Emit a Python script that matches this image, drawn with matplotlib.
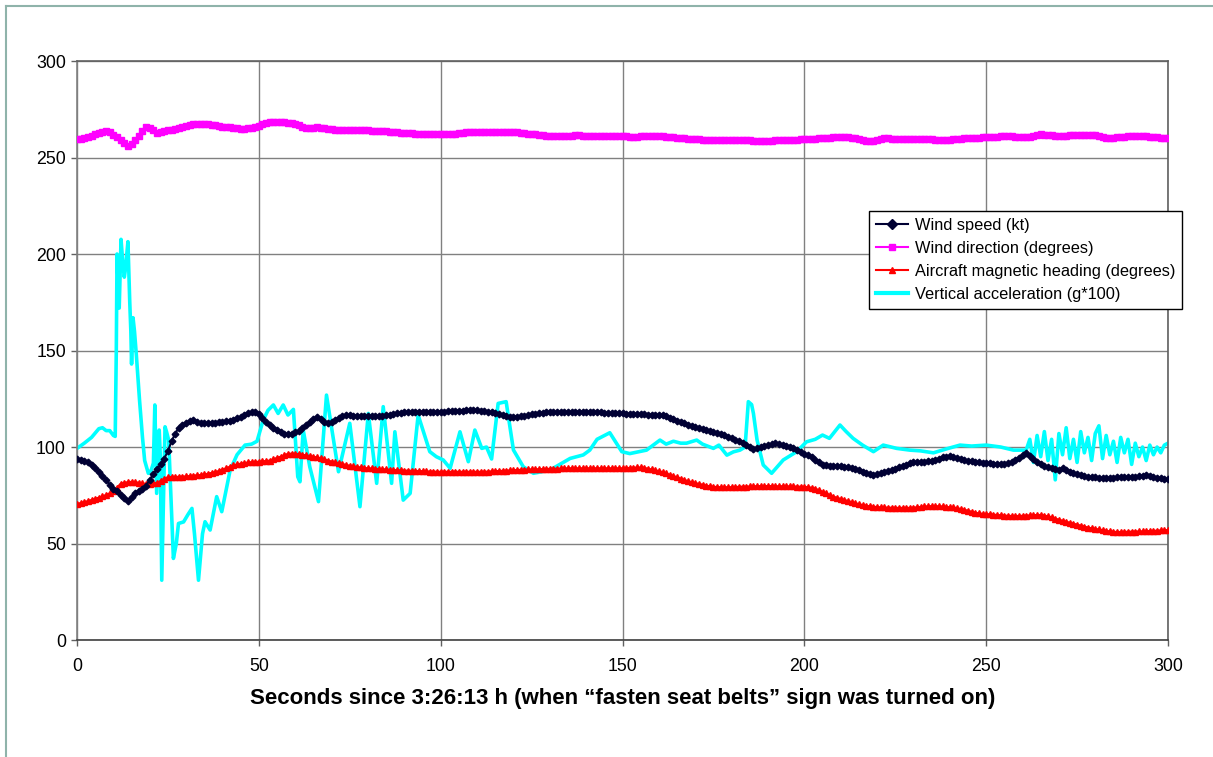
import matplotlib
matplotlib.use("Agg")
import matplotlib.pyplot as plt
from matplotlib.lines import Line2D
import numpy as np

plt.rcParams['font.family'] = ['Liberation Sans', 'DejaVu Sans']

# ---------------- data ----------------
seconds = list(range(0, 301))

wind_speed = [
    93.6, 93.4, 93.0, 92.0, 90.5, 89.0, 87.0, 85.0, 83.0, 80.5,
    78.5, 77.0, 75.0, 73.5, 72.0, 74.0, 76.0, 77.0, 78.0, 80.0,
    83.0, 86.0, 88.5, 91.0, 94.0, 98.0, 103.0, 107.0, 110.0, 111.5,
    112.5, 113.5, 114.0, 113.0, 112.5, 112.4, 112.5, 112.5, 112.6, 112.8,
    113.0, 113.3, 113.6, 114.0, 114.8, 115.6, 116.5, 117.5, 118.3, 118.0,
    117.0, 115.0, 113.0, 111.5, 110.0, 109.0, 107.8, 107.0, 106.5, 107.0,
    107.8, 108.5, 110.0, 111.5, 113.0, 114.5, 115.7, 114.5, 113.2, 112.3,
    113.0, 114.0, 115.0, 116.0, 116.6, 116.5, 116.3, 116.2, 116.0, 116.0,
    116.0, 116.0, 116.0, 116.1, 116.2, 116.5, 116.8, 117.2, 117.5, 117.8,
    118.0, 118.1, 118.2, 118.2, 118.3, 118.2, 118.1, 118.2, 118.3, 118.3,
    118.3, 118.4, 118.5, 118.6, 118.7, 118.8, 118.9, 119.0, 119.0, 119.0,
    119.0, 118.8, 118.5, 118.3, 118.0, 117.5, 117.0, 116.5, 116.0, 115.8,
    115.7, 115.7, 116.0, 116.3, 116.6, 117.0, 117.3, 117.6, 117.8, 118.0,
    118.0, 118.1, 118.1, 118.2, 118.2, 118.2, 118.3, 118.3, 118.3, 118.3,
    118.3, 118.3, 118.3, 118.3, 118.0, 117.8, 117.6, 117.5, 117.5, 117.4,
    117.4, 117.3, 117.2, 117.1, 117.0, 117.0, 116.9, 116.8, 116.7, 116.6,
    116.6, 116.4, 116.0, 115.3, 114.5, 113.7, 113.0, 112.3, 111.6, 111.0,
    110.5, 110.0, 109.5, 109.0, 108.5, 108.0, 107.3, 106.6, 106.0, 105.3,
    104.5, 103.8, 103.0, 102.0, 101.0, 100.0, 99.0, 99.5, 100.0, 100.5,
    101.0, 101.5, 102.0, 101.5, 101.0, 100.5, 100.0, 99.3, 98.5, 97.5,
    96.5, 96.0, 95.0, 93.5, 92.0, 90.7, 90.5, 90.4, 90.3, 90.2,
    90.0, 89.8, 89.5, 89.0, 88.5, 88.0, 87.3, 86.6, 86.0, 85.5,
    86.0, 86.5, 87.0, 87.5, 88.2, 88.8, 89.5, 90.2, 90.8, 91.5,
    92.0, 92.0, 92.2, 92.5, 92.8, 93.0, 93.5, 94.0, 94.6, 95.0,
    95.3, 95.0, 94.5, 94.0, 93.5, 93.0, 92.6, 92.3, 92.0, 91.7,
    91.5, 91.5, 91.4, 91.3, 91.2, 91.0, 91.5, 92.5, 93.5, 94.5,
    95.8, 96.7, 95.5, 94.0, 92.5, 91.0, 90.0, 89.5, 89.0, 88.5,
    88.0, 89.0, 88.0, 87.0, 86.5, 86.0, 85.5, 85.0, 84.6, 84.4,
    84.3, 84.2, 84.0, 84.0, 84.1, 84.2, 84.3, 84.3, 84.4, 84.5,
    84.5, 84.7, 85.0, 85.2, 85.3, 85.0, 84.6, 84.0, 83.8, 83.5,
    83.3,
]

wind_direction = [
    259.4, 259.6, 260.0, 260.5, 261.2, 262.0, 262.8, 263.3, 263.5, 263.0,
    261.8, 260.5, 259.0, 257.3, 256.0, 257.0, 259.0, 261.0, 263.5, 265.6,
    265.5, 264.0, 262.5, 263.0, 263.5, 264.0, 264.5, 265.0, 265.5, 266.0,
    266.5, 267.0, 267.5, 267.6, 267.6, 267.5, 267.2, 266.9, 266.6, 266.3,
    266.0, 265.8, 265.6, 265.4, 265.2, 265.0, 265.0, 265.1, 265.2, 265.8,
    266.5, 267.3, 268.0, 268.3, 268.5, 268.5, 268.4, 268.3, 268.0, 267.8,
    267.5, 266.8, 266.0, 265.5, 265.3, 265.5, 265.6, 265.5, 265.2, 265.0,
    264.7, 264.5, 264.4, 264.3, 264.2, 264.2, 264.1, 264.1, 264.0, 264.0,
    264.0, 263.9, 263.9, 263.8, 263.7, 263.5, 263.4, 263.2, 263.0, 262.8,
    262.7, 262.6, 262.5, 262.4, 262.3, 262.2, 262.1, 262.0, 262.0, 262.0,
    262.0, 262.0, 262.1, 262.2, 262.4, 262.5, 262.8, 263.1, 263.2, 263.3,
    263.3, 263.4, 263.4, 263.4, 263.4, 263.4, 263.3, 263.3, 263.3, 263.3,
    263.2, 263.0, 262.8, 262.6, 262.4, 262.2, 262.0, 261.8, 261.6, 261.4,
    261.2, 261.0, 261.0, 261.1, 261.2, 261.3, 261.4, 261.5, 261.5, 261.4,
    261.3, 261.2, 261.1, 261.1, 261.0, 261.0, 261.0, 261.0, 261.0, 261.0,
    261.0, 260.9, 260.8, 260.8, 260.8, 260.9, 261.0, 261.0, 261.0, 261.0,
    261.0, 260.9, 260.8, 260.6, 260.5, 260.3, 260.1, 259.9, 259.7, 259.6,
    259.5, 259.4, 259.3, 259.3, 259.2, 259.2, 259.1, 259.1, 259.0, 259.0,
    259.0, 259.0, 258.9, 258.9, 258.9, 258.9, 258.8, 258.8, 258.8, 258.8,
    258.8, 258.8, 258.9, 258.9, 259.0, 259.0, 259.1, 259.2, 259.3, 259.4,
    259.5, 259.6, 259.7, 259.8, 259.9, 260.0, 260.1, 260.2, 260.4, 260.5,
    260.6, 260.5, 260.4, 260.2, 260.0, 259.8, 259.2, 258.5, 258.3, 258.5,
    259.0, 259.5, 260.0, 259.9, 259.8, 259.7, 259.7, 259.6, 259.6, 259.5,
    259.5, 259.5, 259.5, 259.4, 259.4, 259.4, 259.3, 259.3, 259.3, 259.3,
    259.3, 259.4, 259.6, 259.8, 259.9, 260.0, 260.1, 260.2, 260.3, 260.4,
    260.5, 260.6, 260.7, 260.8, 260.9, 261.0, 261.0, 260.9, 260.7, 260.6,
    260.5, 260.5, 260.5, 261.0, 261.5, 262.0, 261.8, 261.6, 261.5, 261.4,
    261.3, 261.3, 261.4, 261.5, 261.5, 261.5, 261.6, 261.6, 261.5, 261.5,
    261.5, 261.0, 260.5, 260.0, 260.2, 260.3, 260.5, 260.6, 260.7, 260.9,
    261.0, 261.0, 261.0, 261.0, 260.9, 260.8, 260.7, 260.5, 260.3, 260.1,
    260.0,
]

heading = [
    70.5, 71.0, 71.5, 72.0, 72.6, 73.2, 73.8, 74.4, 75.2, 76.0,
    77.3, 79.0, 81.0, 81.5, 81.8, 82.0, 81.8, 81.5, 81.2, 80.8,
    81.0, 81.2, 81.5, 82.5, 83.5, 84.4, 84.5, 84.5, 84.6, 84.7,
    84.8, 85.0, 85.2, 85.4, 85.5, 85.8, 86.2, 86.6, 87.0, 87.6,
    88.3, 89.0, 89.8, 90.5, 91.0, 91.4, 91.7, 92.0, 92.2, 92.3,
    92.4, 92.6, 92.8, 93.0, 93.7, 94.4, 95.0, 95.8, 96.5, 96.6,
    96.5, 96.3, 96.0, 95.7, 95.3, 95.0, 94.6, 94.1, 93.6, 93.0,
    92.5, 92.0, 91.6, 91.2, 90.7, 90.3, 90.0, 89.7, 89.4, 89.2,
    89.0, 88.9, 88.7, 88.6, 88.5, 88.4, 88.2, 88.1, 88.0, 87.9,
    87.8, 87.8, 87.7, 87.6, 87.6, 87.5, 87.4, 87.3, 87.3, 87.2,
    87.2, 87.2, 87.2, 87.2, 87.2, 87.2, 87.2, 87.2, 87.2, 87.2,
    87.2, 87.2, 87.2, 87.3, 87.4, 87.5, 87.6, 87.7, 87.8, 87.9,
    88.0, 88.1, 88.2, 88.3, 88.4, 88.4, 88.5, 88.5, 88.6, 88.7,
    88.7, 88.8, 88.8, 88.9, 88.9, 89.0, 89.0, 89.0, 89.0, 89.0,
    89.0, 89.0, 89.0, 89.0, 89.0, 89.0, 89.0, 89.0, 89.0, 89.0,
    89.0, 89.1, 89.2, 89.3, 89.4, 89.4, 89.2, 88.8, 88.4, 88.0,
    87.5, 87.0, 86.3, 85.6, 85.0, 84.3, 83.6, 83.0, 82.3, 81.8,
    81.3, 80.9, 80.5, 80.0, 79.7, 79.4, 79.3, 79.2, 79.2, 79.2,
    79.2, 79.3, 79.4, 79.5, 79.5, 79.6, 79.7, 79.7, 79.8, 79.8,
    79.8, 79.8, 79.7, 79.7, 79.7, 79.7, 79.6, 79.6, 79.5, 79.5,
    79.4, 79.2, 78.9, 78.5, 77.6, 76.8, 76.0, 75.1, 74.3, 73.7,
    73.1, 72.6, 72.0, 71.5, 70.9, 70.4, 69.9, 69.6, 69.3, 69.1,
    68.9, 68.8, 68.7, 68.6, 68.6, 68.5, 68.5, 68.5, 68.5, 68.5,
    68.6, 68.8, 69.0, 69.2, 69.3, 69.4, 69.4, 69.3, 69.2, 69.0,
    68.8, 68.7, 68.3, 67.9, 67.5, 67.0, 66.5, 66.0, 65.6, 65.4,
    65.3, 65.1, 65.0, 64.8, 64.7, 64.5, 64.4, 64.3, 64.3, 64.3,
    64.4, 64.5, 64.6, 64.7, 64.8, 64.8, 64.5, 64.1, 63.5, 62.9,
    62.4, 61.8, 61.3, 60.8, 60.3, 59.8, 59.3, 58.8, 58.3, 57.9,
    57.6, 57.3, 56.9, 56.6, 56.3, 56.1, 56.0, 56.0, 56.1, 56.1,
    56.2, 56.2, 56.3, 56.3, 56.4, 56.5, 56.6, 56.7, 56.8, 56.9,
    57.0,
]

accel_seconds = [
    0, 2, 4, 6, 7, 8, 9, 10, 10.5, 10.8, 11.0, 11.4, 11.6, 12.1, 12.6, 13.0,
    13.3, 14.0, 14.5, 14.8, 15.0, 15.4, 15.8, 16.3, 17.2, 18.0, 18.6, 19.6,
    20.4, 21.0, 21.4, 21.9, 22.6, 22.9, 23.3, 24.2, 24.6, 25.2, 26.5, 27.3,
    27.9, 29.3, 30.5, 31.6, 32.3, 33.4, 34.5, 35.2, 36.6, 38.4, 39.8, 42.1,
    44, 46.2, 48, 49.5, 51.2, 52.5, 54, 55.3, 56.7, 58, 59.5, 60.7, 61.3,
    62.2, 64, 66.4, 68.6, 71.9, 75, 77.8, 80.1, 82.4, 84.2, 86.5, 87.4, 89.7,
    91.6, 93.8, 97, 98.8, 100.7, 102.6, 105.3, 107.6, 109.4, 111.3, 112.6,
    114, 115.8, 118, 120, 122.7, 125.5, 130, 135.6, 139.2, 141, 143, 146.5,
    149.8, 152, 156.6, 160.3, 162, 164, 166, 167.6, 170.4, 172, 175, 176.5,
    178.7, 180.5, 182.3, 183.7, 184.6, 185.5, 186, 187, 188.7, 191, 194.2,
    197.9, 200.6, 203, 205, 206.9, 209.8, 211.5, 213.4, 216, 219, 221.7,
    225.4, 229, 232, 235.5, 239, 242.8, 246, 250, 254, 257.5, 261,
    262, 263, 264, 265, 266, 267, 268, 269, 270, 271, 272, 273, 274, 275,
    276, 277, 278, 279, 280, 281, 282, 283, 284, 285, 286, 287, 288, 289,
    290, 291, 292, 293, 294, 295, 296, 297, 298, 299, 300,
]

vertical_accel = [
    99.3, 102, 105, 109.5, 110, 108.5, 108.5, 106, 105.5, 150, 200, 180, 172,
    207.6, 195, 188, 192, 206.4, 175, 160, 143, 167, 160, 148, 124, 105, 93,
    86.4, 88, 91.7, 121.8, 76, 108.8, 95, 31, 110.5, 108, 103.6, 42.3, 50,
    60.4, 61.2, 65, 68.2, 55, 31, 55, 61.3, 57, 74.3, 66.5, 88,
    96, 101, 101.5, 103, 114, 119, 121.8, 117.4, 121.8, 116.6, 119.5, 84.6, 82,
    108.8, 89.8, 71.7, 126.9, 87.2, 112.3, 69.1, 117.4, 81.2, 120.9, 81.2,
    107.9, 72.5, 76, 116.6, 97.6, 95, 93.3, 89, 107.9, 92.4, 108.8, 99.3, 100,
    93.8, 122.6, 123.5, 98.5, 89.8, 86.4, 88, 94.1, 95.9, 98.4, 104, 107.4,
    97.6, 96.6, 98.4, 103.6, 101.5, 103, 102, 102, 103.6, 101.5, 99.3, 101,
    95.8, 97.5, 98.4, 100, 123.5, 122, 117.4, 103.6, 90.7, 86.4, 93.3,
    97.6, 102.7, 104, 106.2, 104.5, 111.4, 108, 104.5, 101, 97.6, 101,
    99.3, 98.4, 98, 97, 99, 101, 100.5, 101, 100, 98.4, 98.4,
    104, 92, 106, 95, 108, 93, 104, 83, 107, 96, 110, 94, 104, 92,
    108, 97, 105, 93, 107, 111, 94, 106, 96, 103, 92, 105, 97, 104,
    91, 102, 95, 100, 93, 101, 96, 100, 97, 101, 102,
]

x_ticks = [0, 50, 100, 150, 200, 250, 300]
y_ticks = [0, 50, 100, 150, 200, 250, 300]
x_label = "Seconds since 3:26:13 h (when \u201cfasten seat belts\u201d sign was turned on)"
labels = ["Wind speed (kt)", "Wind direction (degrees)",
          "Aircraft magnetic heading (degrees)", "Vertical acceleration (g*100)"]

# ---------------- figure ----------------
fig = plt.figure(figsize=(12.13, 7.57), dpi=100)
ax = fig.add_axes([0.0635, 0.1545, 0.8994, 0.7649])

ax.plot(accel_seconds, vertical_accel, color='#00FFFF', lw=2.6, zorder=2,
        label=labels[3])
ax.plot(seconds, heading, color='#FF0000', lw=1.5, marker='^', ms=4.2,
        mec='#FF0000', mfc='#FF0000', zorder=3, label=labels[2])
ax.plot(seconds, wind_direction, color='#FF00FF', lw=1.5, marker='s', ms=3.8,
        mec='#FF00FF', mfc='#FF00FF', zorder=3, label=labels[1])
ax.plot(seconds, wind_speed, color='#000033', lw=1.5, marker='D', ms=3.4,
        mec='#000033', mfc='#000033', zorder=4, label=labels[0])

ax.set_xlim(0, 300)
ax.set_ylim(0, 300)
ax.set_xticks(x_ticks)
ax.set_yticks(y_ticks)
ax.grid(True, color='#808080', lw=1.0)
ax.set_axisbelow(True)

for s in ['top', 'right']:
    ax.spines[s].set_color('#606060')
    ax.spines[s].set_linewidth(1.2)
ax.spines['left'].set_color('#808080')
ax.spines['left'].set_linewidth(1.2)
ax.spines['bottom'].set_color('#404040')
ax.spines['bottom'].set_linewidth(1.2)

ax.tick_params(axis='both', direction='out', length=4, width=1,
               color='#606060', labelsize=12.8, labelcolor='black')
ax.tick_params(axis='y', pad=4)
ax.tick_params(axis='x', pad=9)

ax.set_xlabel(x_label, fontsize=16, fontweight='bold', labelpad=9)

handles, labs = ax.get_legend_handles_labels()
order = [3, 2, 1, 0]
leg_handles = []
for h in [handles[i] for i in order]:
    has_marker = h.get_marker() not in ('None', None, '')
    leg_handles.append(Line2D([], [], color=h.get_color(), lw=1.5 if has_marker else 3,
                              marker=h.get_marker(), ms=5 if has_marker else 0,
                              mfc=h.get_color(), mec=h.get_color()))
leg = ax.legend(leg_handles, [labs[i] for i in order], loc='upper left',
                bbox_to_anchor=(0.726, 0.741), fontsize=11.8, frameon=True,
                fancybox=False, edgecolor='black', framealpha=1,
                handlelength=2.0, handletextpad=0.4, borderpad=0.4,
                labelspacing=0.5, borderaxespad=0)
leg.get_frame().set_linewidth(1.0)
leg.set_zorder(10)

# outer frame lines (top and left)
fig.add_artist(Line2D([5.5 / 1213, 1], [1 - 5.5 / 757, 1 - 5.5 / 757],
                      transform=fig.transFigure, color='#8fb3aa', lw=1.5))
fig.add_artist(Line2D([5.5 / 1213, 5.5 / 1213], [0, 1 - 5.5 / 757],
                      transform=fig.transFigure, color='#8fb3aa', lw=1.5))

fig.savefig('out.png', dpi=100)
